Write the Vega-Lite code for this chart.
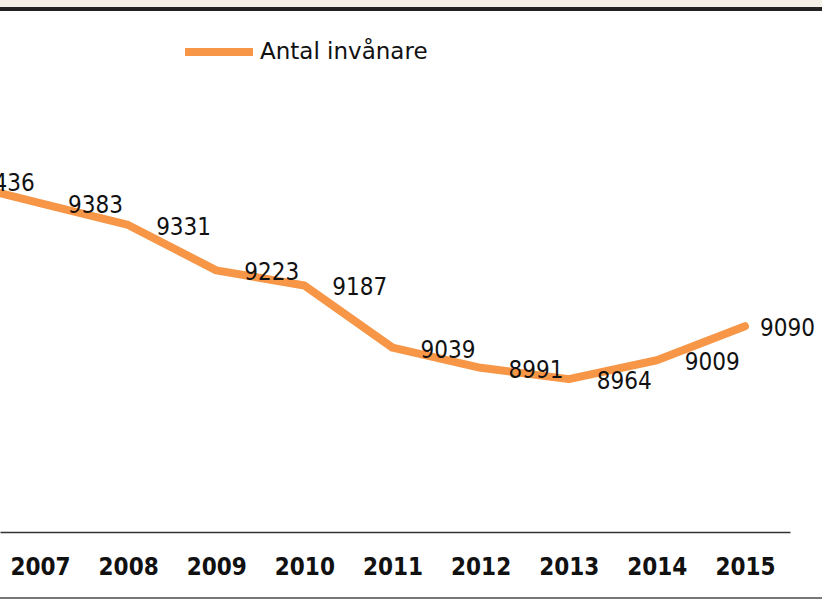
{
  "$schema": "https://vega.github.io/schema/vega-lite/v6.json",
  "width": 790,
  "height": 504,
  "autosize": {"type": "none"},
  "padding": {"left": 0, "top": 28, "right": 32, "bottom": 70},
  "background": "white",
  "config": {"view": {"stroke": null}},
  "data": {
    "values": [
      {"year": 2006, "value": 9436},
      {"year": 2007, "value": 9383},
      {"year": 2008, "value": 9331},
      {"year": 2009, "value": 9223},
      {"year": 2010, "value": 9187},
      {"year": 2011, "value": 9039},
      {"year": 2012, "value": 8991},
      {"year": 2013, "value": 8964},
      {"year": 2014, "value": 9009},
      {"year": 2015, "value": 9090}
    ]
  },
  "encoding": {
    "x": {
      "field": "year",
      "type": "quantitative",
      "scale": {"domain": [2006.546, 2015.511], "nice": false, "zero": false},
      "axis": {
        "values": [2007, 2008, 2009, 2010, 2011, 2012, 2013, 2014, 2015],
        "format": "d",
        "title": null,
        "grid": false,
        "ticks": false,
        "domainColor": "#333333",
        "domainWidth": 1.5,
        "labelFont": "DejaVu Sans Condensed",
        "labelFontWeight": "bold",
        "labelFontSize": 24,
        "labelColor": "#111111",
        "labelPadding": 23,
        "labelFlush": false,
        "labelOverlap": false
      }
    },
    "y": {
      "field": "value",
      "type": "quantitative",
      "scale": {"domain": [8600, 9800], "nice": false, "zero": false},
      "axis": null
    }
  },
  "layer": [
    {
      "mark": {"type": "rect", "color": "#F3EEE6", "clip": false},
      "encoding": {
        "x": {"datum": 2006}, "x2": {"datum": 2016.2},
        "y": {"datum": 9852}, "y2": {"datum": 9880}
      }
    },
    {
      "mark": {"type": "rule", "color": "#222222", "strokeWidth": 4, "clip": false},
      "encoding": {
        "x": {"datum": 2006}, "x2": {"datum": 2016.2},
        "y": {"datum": 9845}
      }
    },
    {
      "mark": {"type": "rule", "color": "#777777", "strokeWidth": 2, "clip": false},
      "encoding": {
        "x": {"datum": 2006}, "x2": {"datum": 2016.2},
        "y": {"datum": 8443}
      }
    },
    {
      "mark": {"type": "line", "strokeWidth": 8, "strokeCap": "round", "strokeJoin": "round", "clip": true},
      "encoding": {
        "color": {
          "datum": "Antal invånare",
          "type": "nominal",
          "scale": {"range": ["#F79646"]},
          "legend": {
            "title": null,
            "orient": "none",
            "legendX": 181,
            "legendY": -14,
            "padding": 0,
            "symbolType": "stroke",
            "symbolSize": 4624,
            "symbolStrokeWidth": 8,
            "labelFont": "DejaVu Sans",
            "labelFontSize": 23,
            "labelColor": "#111111",
            "labelOffset": 3,
            "labelLimit": 400
          }
        }
      }
    },
    {
      "transform": [{"filter": "datum.year < 2015"}],
      "mark": {"type": "text", "align": "left", "baseline": "middle", "dx": 28, "dy": 3, "font": "DejaVu Sans Condensed", "fontSize": 24, "color": "#111111", "clip": true},
      "encoding": {"text": {"field": "value", "type": "quantitative", "format": "d"}}
    },
    {
      "transform": [{"filter": "datum.year == 2015"}],
      "mark": {"type": "text", "align": "left", "baseline": "middle", "dx": 15, "dy": 3, "font": "DejaVu Sans Condensed", "fontSize": 24, "color": "#111111"},
      "encoding": {"text": {"field": "value", "type": "quantitative", "format": "d"}}
    }
  ]
}
